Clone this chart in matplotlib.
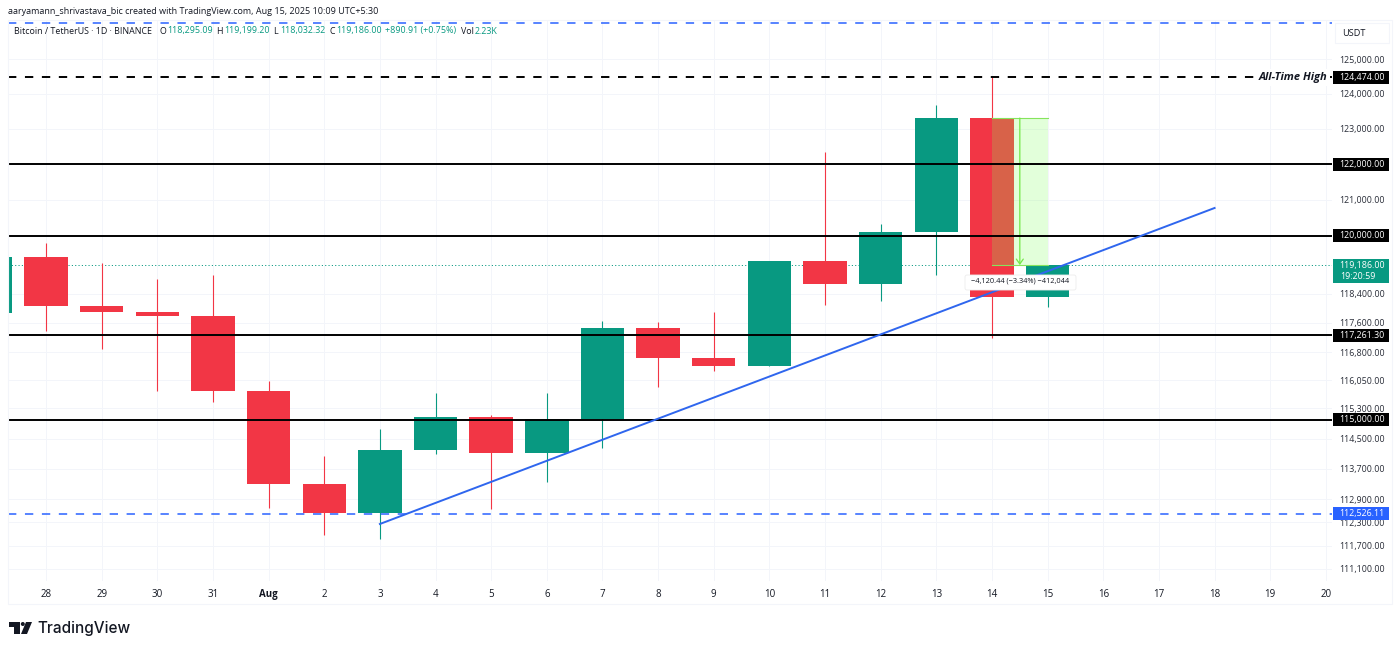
import matplotlib
matplotlib.use("Agg")
import matplotlib.pyplot as plt
from matplotlib.patches import Rectangle, Polygon, FancyBboxPatch
from matplotlib.ticker import FuncFormatter, NullLocator
from matplotlib.transforms import IdentityTransform

plt.rcParams['font.family'] = ['Open Sans', 'DejaVu Sans']
plt.rcParams['lines.scale_dashes'] = False

# daily candles, first one is Jul 27 and is cut off by the left edge
days = list(range(-1, 19))
opens = [117870, 119415, 118062, 117890, 117780, 115760, 113297, 112546, 114208, 115070,
         114108, 115028, 117450, 116640, 116430, 119306, 118660, 120100, 123306, 118295]
highs = [119415, 119795, 119242, 118800, 118912, 116030, 114040, 114750, 115720, 115127,
         115716, 117640, 117630, 117900, 119306, 122335, 120320, 123668, 124474, 119199]
lows = [117870, 117380, 116895, 115765, 115470, 112680, 111975, 111870, 114100, 112650,
        113350, 114260, 115870, 116300, 116430, 118100, 118200, 118920, 117180, 118032]
closes = [119415, 118062, 117890, 117780, 115760, 113297, 112546, 114208, 115070, 114108,
          115028, 117450, 116640, 116430, 119306, 118660, 120100, 123306, 118295, 119186]

date_pos = list(range(0, 24))
date_labels = ['28', '29', '30', '31', 'Aug'] + [str(d) for d in range(2, 21)]
price_ticks = [125000, 124000, 123000, 122000, 121000, 120000, 118400, 117600, 116800, 116050,
               115300, 114500, 113700, 112900, 112300, 111700, 111100]

black_levels = [122000, 120000, 117261.30, 115000]
ath = 124474
blue_levels = [126044, 112526.11]
last_price = 119186
trend_days = [6, 21]
trend_prices = [112260, 120768]
measure_days = [17, 18]
measure_prices = [123306, 119186]

GREEN = '#089981'
RED = '#f23645'
BLUE = '#2962ff'
GRID = '#f3f5fa'
TEXT = '#131722'
H = 651

fig = plt.figure(figsize=(14, 6.51), dpi=100, facecolor='white')
ax = fig.add_axes([8 / 1400, (H - 581) / H, 1324 / 1400, 560 / H])
ax.set_yscale('log')
ax.set_xlim(-0.683, 23.11)
ax.set_ylim(110790, 126103)
for s in ax.spines.values():
    s.set_visible(False)

ax.set_axisbelow(True)
ax.grid(True, color=GRID, lw=0.7)
ax.set_xticks(date_pos)
ax.set_xticklabels(date_labels, fontsize=7, color=TEXT)
ax.get_xticklabels()[4].set_fontweight('bold')
ax.yaxis.tick_right()
ax.set_yticks(price_ticks)
# the level boxes sit on top of these two ticks
ax.yaxis.set_major_formatter(FuncFormatter(lambda v, p: '' if v in black_levels else f'{v:,.2f}'))
ax.yaxis.set_minor_locator(NullLocator())
ax.tick_params(axis='x', length=0, pad=5.5)
ax.tick_params(axis='y', length=0, pad=5.4, labelsize=6.4, labelcolor='#2a2e39')

# candles
for d, o, h, l, c in zip(days, opens, highs, lows, closes):
    col = GREEN if c >= o else RED
    ax.vlines(d, l, h, color=col, lw=0.8, zorder=3)
    ax.bar(d, abs(c - o), bottom=min(o, c), width=0.78, color=col, zorder=3)

# measure tool over the last two candles
ax.add_patch(Rectangle((measure_days[0], measure_prices[1]), measure_days[1] - measure_days[0],
                       measure_prices[0] - measure_prices[1], facecolor='#7dff5a', alpha=0.22,
                       edgecolor='none', zorder=4))
for p in measure_prices:
    ax.plot(measure_days, [p, p], color='#86e45c', lw=0.8, zorder=4)
mid = sum(measure_days) / 2
ax.annotate('', xy=(mid, measure_prices[1]), xytext=(mid, measure_prices[0]), zorder=4,
            arrowprops=dict(arrowstyle='->,head_length=0.35,head_width=0.25', color='#74e848', lw=0.9,
                            shrinkA=0, shrinkB=0))

# levels
for p in black_levels:
    ax.axhline(p, color='black', lw=1.4, zorder=5)
ax.axhline(ath, color='black', lw=1.4, ls=(0, (6, 6.2)), dash_capstyle='butt', zorder=5)
for p in blue_levels:
    ax.axhline(p, color=BLUE, lw=1.1, ls=(0, (6, 6.2)), dash_capstyle='butt', zorder=5)
ax.axhline(last_price, color=GREEN, lw=0.7, ls=(0, (0.8, 1.6)), zorder=2)
ax.plot(trend_days, trend_prices, color='#2f66ee', lw=1.4, zorder=6)
ax.text(23.02, ath, 'All-Time High', ha='right', va='center', fontsize=8, fontweight='bold',
        fontstyle='italic', color=TEXT, zorder=7,
        bbox=dict(facecolor='white', edgecolor='none', pad=2))


def py(price):
    # pixel height of a price, counted from the bottom of the figure
    return ax.transData.transform((0, price))[1]


def price_box(price, fill, label, height=13):
    y = py(price)
    ax.add_patch(Rectangle((1333, y - height / 2), 56, height, facecolor=fill, edgecolor='none',
                           transform=IdentityTransform(), clip_on=False, zorder=10))
    ax.text(1385, y, label, transform=IdentityTransform(), ha='right', va='center', fontsize=6.4,
            color='white', clip_on=False, zorder=11)


fig.canvas.draw()
for p in black_levels + [ath]:
    price_box(p, 'black', f'{p:,.2f}')
price_box(blue_levels[1], BLUE, f'{blue_levels[1]:,.2f}')

# last price box with countdown
y = py(last_price)
ax.add_patch(Rectangle((1333, y - 18), 56, 24, facecolor=GREEN, edgecolor='none',
                       transform=IdentityTransform(), clip_on=False, zorder=10))
ax.text(1385, y, f'{last_price:,.2f}', transform=IdentityTransform(), ha='right', va='center',
        fontsize=6.4, color='white', zorder=11)
ax.text(1340, y - 11, '19:20:59', transform=IdentityTransform(), ha='left', va='center',
        fontsize=6.4, color='white', zorder=11)

# measure label
ax.add_patch(FancyBboxPatch((965, H - 290), 111, 15, boxstyle='round,pad=0,rounding_size=2',
                            facecolor='white', edgecolor='#ececec', lw=0.6,
                            transform=IdentityTransform(), clip_on=False, zorder=8))
ax.text(1020.5, H - 281.5, '\u22124,120.44 (\u22123.34%) \u2212412,044', transform=IdentityTransform(),
        ha='center', va='center', fontsize=5.3, color=TEXT, zorder=9)

# outer frame and price scale
fig.add_artist(Rectangle((8, H - 604), 1384, 584, fill=False, edgecolor=GRID, lw=0.8,
                         transform=IdentityTransform()))
fig.add_artist(Rectangle((1335, H - 43), 54, 20, facecolor='white', edgecolor=GRID, lw=0.8,
                         transform=IdentityTransform()))
fig.text(1342, H - 34, 'USDT', transform=IdentityTransform(), fontsize=6.6, color=TEXT, va='center')

# header
fig.text(8, H - 11, 'aaryamann_shrivastava_bic created with TradingView.com, Aug 15, 2025 10:09 UTC+5:30',
         transform=IdentityTransform(), fontsize=6.45, color=TEXT, va='center')
header = [(14, 'Bitcoin / TetherUS \u00b7 1D \u00b7 BINANCE', TEXT),
          (159, 'O', TEXT), (167, '118,295.09', GREEN),
          (216, 'H', TEXT), (224, '119,199.20', GREEN),
          (273, 'L', TEXT), (280, '118,032.32', GREEN),
          (329, 'C', TEXT), (336, '119,186.00', GREEN),
          (385, '+890.91 (+0.75%)', GREEN),
          (461, 'Vol', TEXT), (475, '2.23K', GREEN)]
for x, s, col in header:
    fig.text(x, H - 31, s, transform=IdentityTransform(), fontsize=6.4, color=col, va='center')

# TradingView logo
logo = [[(9, 622), (20, 622), (20, 634), (14, 634), (14, 627), (9, 627)],
        [(26, 622), (32, 622), (27, 634), (21, 634)]]
for pts in logo:
    fig.add_artist(Polygon([(a, H - b) for a, b in pts], closed=True, facecolor=TEXT,
                           edgecolor='none', transform=IdentityTransform()))
fig.add_artist(plt.Circle((22.8, H - 624), 2, facecolor=TEXT, edgecolor='none',
                          transform=IdentityTransform()))
fig.text(37, H - 628, 'TradingView', transform=IdentityTransform(), fontsize=11,
         family='Inter', fontweight='medium', color=TEXT, va='center')

fig.savefig('out.png', dpi=100)
